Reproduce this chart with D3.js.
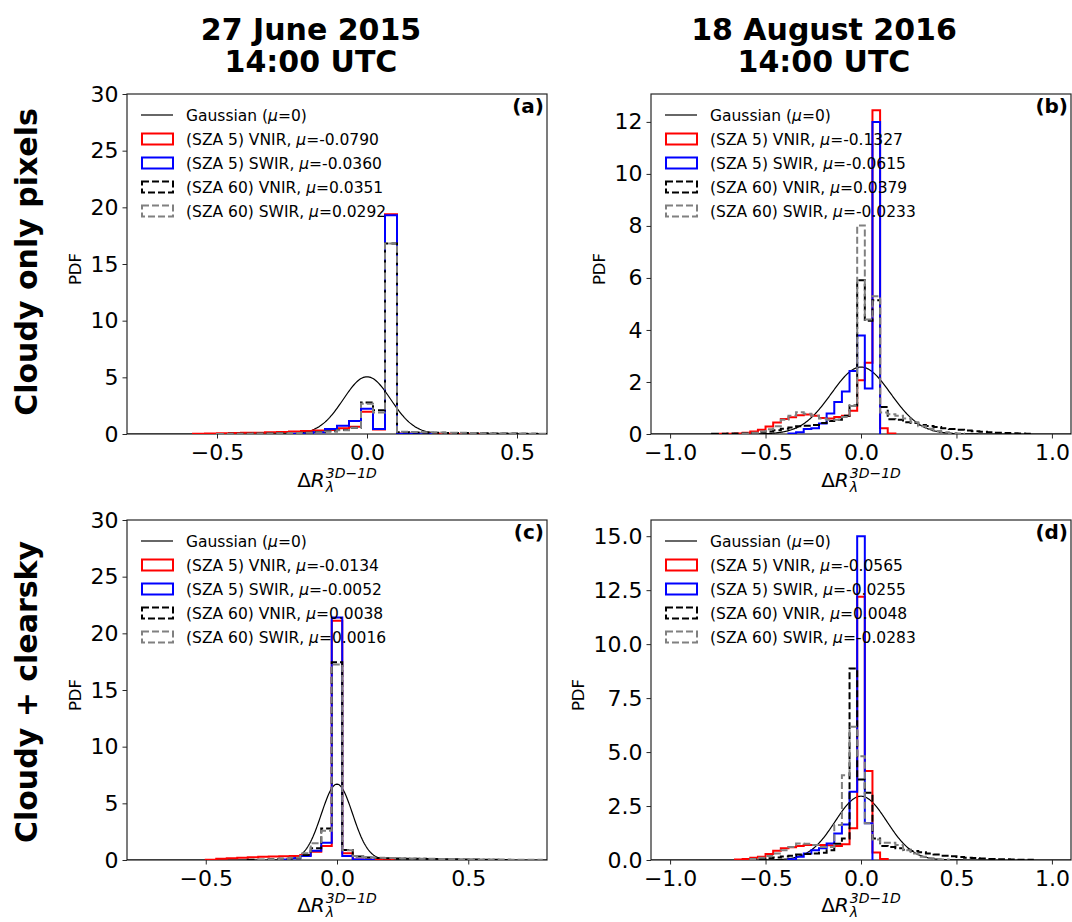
<!DOCTYPE html>
<html>
<head>
<meta charset="utf-8">
<script src="https://cdn.jsdelivr.net/npm/d3@7"></script>
<style>
  body { margin: 0; background: #fff; }
  svg { display: block; font-family: "DejaVu Sans", sans-serif; }
</style>
</head>
<body>
<div id="chart"></div>
<script>
// ---- data ----
// histogram bins are 0.04 wide, first bin left edge at -0.78 (centres -0.76, -0.72, ...)
const BIN_START = -0.78;
const BIN_WIDTH = 0.04;

const columnTitles = [["27 June 2015", "14:00 UTC"], ["18 August 2016", "14:00 UTC"]];
const rowTitles = ["Cloudy only pixels", "Cloudy + clearsky"];
const panelLetters = ["(a)", "(b)", "(c)", "(d)"];
const seriesNames = ["(SZA 5) VNIR", "(SZA 5) SWIR", "(SZA 60) VNIR", "(SZA 60) SWIR"];
const seriesMeans = [
    ["-0.0790", "-0.0360", "0.0351", "0.0292"],
    ["-0.1327", "-0.0615", "0.0379", "-0.0233"],
    ["-0.0134", "-0.0052", "0.0038", "0.0016"],
    ["-0.0565", "-0.0255", "0.0048", "-0.0283"]
];

// sigma of the Gaussian (mu=0) reference curve in each panel
const gaussSigma = [0.079, 0.155, 0.0596, 0.135];

const xLimits = [[-0.8, 0.6], [-1.1, 1.1], [-0.8, 0.8], [-1.1, 1.1]];
const yLimits = [[0, 30], null, [0, 30], null]; // null = autoscale like matplotlib
const xTickValues = [
    [-0.5, 0, 0.5], [-1, -0.5, 0, 0.5, 1], [-0.5, 0, 0.5], [-1, -0.5, 0, 0.5, 1]
];
const yTickValues = [
    [0, 5, 10, 15, 20, 25, 30], [0, 2, 4, 6, 8, 10, 12],
    [0, 5, 10, 15, 20, 25, 30], [0, 2.5, 5, 7.5, 10, 12.5, 15]
];

// (a) cloudy only, 27 June 2015
const pdfA_vnir5 = [0,0,0,0,0, 0.02,0.04,0.06,0.08,0.1, 0.12,0.15,0.18,0.22,0.26, 0.3,0.35,0.5,0.65,1.97, 0.4,19.4,0.05,0.04,0.03, 0.02,0.02,0.01,0.01];
const pdfA_swir5 = [0,0,0,0,0, 0,0,0,0,0, 0,0,0,0.02,0.05, 0.15,0.44,0.73,1.15,2.23, 0.44,19.3,0.03,0.02,0.01];
const pdfA_vnir60 = [0,0,0,0,0, 0,0,0.01,0.02,0.03, 0.04,0.05,0.06,0.08,0.12, 0.18,0.25,0.35,0.55,2.77, 2.1,16.8,0.15,0.14,0.12, 0.1,0.09,0.08,0.07,0.06, 0.05,0.04,0.03,0.02,0.01];
const pdfA_swir60 = [0,0,0,0,0, 0,0,0.01,0.02,0.03, 0.04,0.05,0.06,0.08,0.1, 0.15,0.22,0.33,0.55,2.67, 1.9,16.8,0.2,0.18,0.16, 0.14,0.12,0.1,0.08,0.07, 0.06,0.05,0.04,0.03,0.02];

// (b) cloudy only, 18 August 2016
const pdfB_vnir5 = [0,0.01,0.01,0.02,0.05, 0.1,0.16,0.29,0.44,0.58, 0.64,0.72,0.75,0.7,0.62, 0.6,0.65,0.7,0.89,2.07, 2.74,12.45,0.22,0.02];
const pdfB_swir5 = [0,0,0,0,0, 0,0,0,0,0, 0.02,0.07,0.19,0.22,0.4, 0.79,1.23,1.63,2.42,3.79, 1.75,12.0];
const pdfB_vnir60 = [0.01,0.01,0.02,0.02,0.03, 0.04,0.06,0.1,0.14,0.2, 0.25,0.3,0.32,0.35,0.42, 0.5,0.55,0.7,1.1,5.91, 4.35,5.14,1.04,0.57,0.55, 0.45,0.42,0.35,0.31,0.27, 0.22,0.19,0.16,0.13,0.11, 0.09,0.07,0.05,0.04,0.03, 0.02,0.01];
const pdfB_swir60 = [0,0,0,0,0.02, 0.05,0.1,0.18,0.3,0.55, 0.7,0.84,0.78,0.7,0.6, 0.55,0.55,0.65,1.08,8.02, 4.4,5.3,0.83,0.76,0.7, 0.6,0.45,0.3,0.2,0.12, 0.07,0.04,0.02];

// (c) cloudy + clearsky, 27 June 2015
const pdfC_vnir5 = [0,0,0,0,0, 0,0,0.02,0.1,0.15, 0.2,0.24,0.28,0.3,0.32, 0.35,0.44,0.73,1.23,21.1, 0.59,0.05,0.03,0.02,0.01];
const pdfC_swir5 = [0,0,0,0,0, 0,0,0,0,0, 0,0,0,0,0.05, 0.15,0.35,0.82,1.53,21.4, 0.35,0.05,0.02];
const pdfC_vnir60 = [0,0,0,0,0, 0,0,0,0,0, 0,0.02,0.03,0.06,0.1, 0.15,0.45,1.03,2.79,17.45, 0.88,0.3,0.22,0.18,0.15, 0.13,0.11,0.1,0.08,0.07, 0.06,0.05,0.04,0.03,0.02, 0.01];
const pdfC_swir60 = [0,0,0,0,0, 0,0,0,0,0, 0,0,0.03,0.06,0.12, 0.2,0.6,1.47,2.58,17.25, 0.85,0.35,0.25,0.2,0.18, 0.16,0.14,0.12,0.1,0.09, 0.08,0.07,0.06,0.05,0.04, 0.04,0.03,0.03,0.02];

// (d) cloudy + clearsky, 18 August 2016
const pdfD_vnir5 = [0,0,0,0.02,0.05, 0.1,0.15,0.28,0.43,0.54, 0.59,0.65,0.69,0.7,0.7, 0.68,0.65,0.73,1.47,12.2, 4.12,0.35,0.05];
const pdfD_swir5 = [0,0,0,0,0, 0,0,0,0,0, 0.03,0.15,0.3,0.45,0.54, 0.77,1.23,1.65,3.16,15.0, 1.7];
const pdfD_vnir60 = [0,0,0,0,0, 0.03,0.05,0.08,0.12,0.16, 0.2,0.25,0.28,0.3,0.34, 0.45,0.75,1.0,8.87,3.73, 3.11,1.0,0.65,0.6,0.55, 0.48,0.42,0.36,0.3,0.25, 0.2,0.17,0.14,0.11,0.09, 0.07,0.05,0.04,0.03,0.02, 0.01,0.01];
const pdfD_swir60 = [0,0,0,0,0, 0.05,0.1,0.18,0.3,0.45, 0.6,0.77,0.75,0.7,0.6, 0.6,1.62,3.93,6.17,4.81, 1.7,0.95,0.8,0.8,0.7, 0.45,0.3,0.15,0.08,0.04, 0.02];

const panelSeries = [
    [pdfA_vnir5, pdfA_swir5, pdfA_vnir60, pdfA_swir60],
    [pdfB_vnir5, pdfB_swir5, pdfB_vnir60, pdfB_swir60],
    [pdfC_vnir5, pdfC_swir5, pdfC_vnir60, pdfC_swir60],
    [pdfD_vnir5, pdfD_swir5, pdfD_vnir60, pdfD_swir60]
];

// ---- styles / layout ----
const seriesColors = ["#ff0000", "#0000ff", "#000000", "#808080"];
const seriesDash = [null, null, "7,3", "7,3"];
const PANEL_W = 420;
const PANEL_H = 340;
const panelBoxes = [
    { left: 127, top: 94 }, { left: 651, top: 94 },
    { left: 127, top: 520 }, { left: 651, top: 520 }
];
const xLabelOffset = [53, 53, 52, 52];
const AXIS_COLOR = "#262626";

const svg = d3.select("#chart").append("svg")
    .attr("width", 1072)
    .attr("height", 922);

const tickFmt = (fmt) => (d) => fmt(d).replace("-", "\u2212");

class HistPanel {
    constructor(i) {
        this.i = i;
        this.box = panelBoxes[i];
        this.series = panelSeries[i];
        this.g = svg.append("g")
            .attr("transform", `translate(${this.box.left},${this.box.top})`);

        const yMax = yLimits[i] ? yLimits[i][1] : d3.max(this.series.flat()) * 1.05;
        this.x = d3.scaleLinear().domain(xLimits[i]).range([0, PANEL_W]);
        this.y = d3.scaleLinear().domain([0, yMax]).range([PANEL_H, 0]);

        this.drawAxes();
        this.drawCurves();
        this.drawLegend();
        this.drawLabels();
    }

    // 軸と枠
    drawAxes() {
        const yFmt = this.i === 3 ? d3.format(".1f") : d3.format("d");
        const xAxis = d3.axisBottom(this.x)
            .tickValues(xTickValues[this.i])
            .tickFormat(tickFmt(d3.format(".1f")))
            .tickSize(4.5).tickPadding(4);
        const yAxis = d3.axisLeft(this.y)
            .tickValues(yTickValues[this.i])
            .tickFormat(tickFmt(yFmt))
            .tickSize(4.5).tickPadding(4);

        const gx = this.g.append("g")
            .attr("transform", `translate(0,${PANEL_H})`)
            .call(xAxis);
        this.gy = this.g.append("g").call(yAxis);

        [gx, this.gy].forEach(a => {
            a.select(".domain").remove();
            a.selectAll("line").attr("stroke", AXIS_COLOR).attr("stroke-width", 1);
            a.selectAll("text")
                .attr("fill", "#000")
                .style("font-size", "22px")
                .style("font-family", "DejaVu Sans");
        });
        gx.selectAll("text").attr("dy", "0.78em");

        this.g.append("rect")
            .attr("width", PANEL_W)
            .attr("height", PANEL_H)
            .attr("fill", "none")
            .attr("stroke", AXIS_COLOR)
            .attr("stroke-width", 1.2);
    }

    // ガウス曲線とヒストグラム
    drawCurves() {
        const clipId = `clip-${this.i}`;
        this.g.append("clipPath").attr("id", clipId)
            .append("rect").attr("width", PANEL_W).attr("height", PANEL_H);
        const plot = this.g.append("g").attr("clip-path", `url(#${clipId})`);

        const line = d3.line().x(d => this.x(d[0])).y(d => this.y(d[1]));

        // Gaussian (mu = 0)
        const sigma = gaussSigma[this.i];
        const xs = d3.range(xLimits[this.i][0], xLimits[this.i][1] + 1e-9, 0.004);
        const gauss = xs.map(v => [v, Math.exp(-v * v / (2 * sigma * sigma)) / (sigma * Math.sqrt(2 * Math.PI))]);
        plot.append("path")
            .attr("d", line(gauss))
            .attr("fill", "none")
            .attr("stroke", "#000")
            .attr("stroke-width", 1.2);

        // step histograms
        this.series.forEach((vals, s) => {
            const first = vals.findIndex(v => v > 0);
            let last = vals.length - 1;
            while (last > 0 && !(vals[last] > 0)) last--;
            const edge = k => BIN_START + k * BIN_WIDTH;
            const pts = [[edge(first), 0]];
            for (let k = first; k <= last; k++) {
                pts.push([edge(k), vals[k]]);
                pts.push([edge(k + 1), vals[k]]);
            }
            pts.push([edge(last + 1), 0]);

            plot.append("path")
                .attr("d", line(pts))
                .attr("fill", "none")
                .attr("stroke", seriesColors[s])
                .attr("stroke-width", 2)
                .attr("stroke-dasharray", seriesDash[s]);
        });
    }

    // 凡例
    drawLegend() {
        const lg = this.g.append("g").attr("transform", "translate(14,21)");
        const rowH = 24;

        const g0 = lg.append("g");
        g0.append("line")
            .attr("x1", 0).attr("x2", 32)
            .attr("stroke", "#000").attr("stroke-width", 1.2);
        const t0 = g0.append("text").attr("x", 45).attr("dy", "0.36em")
            .style("font-size", "15.5px");
        t0.append("tspan").text("Gaussian (");
        t0.append("tspan").style("font-style", "italic").text("\u03bc");
        t0.append("tspan").text("=0)");

        seriesNames.forEach((name, s) => {
            const row = lg.append("g").attr("transform", `translate(0,${rowH * (s + 1)})`);
            row.append("rect")
                .attr("x", 1).attr("y", -5.5)
                .attr("width", 31).attr("height", 11)
                .attr("fill", "none")
                .attr("stroke", seriesColors[s])
                .attr("stroke-width", 2)
                .attr("stroke-dasharray", seriesDash[s]);
            const t = row.append("text").attr("x", 45).attr("dy", "0.36em")
                .style("font-size", "15.5px");
            t.append("tspan").text(`${name}, `);
            t.append("tspan").style("font-style", "italic").text("\u03bc");
            t.append("tspan").text(`=${seriesMeans[this.i][s]}`);
        });

        // panel letter
        this.g.append("text")
            .attr("x", PANEL_W - 3).attr("y", 19)
            .attr("text-anchor", "end")
            .style("font-size", "20px")
            .style("font-weight", "bold")
            .text(panelLetters[this.i]);
    }

    // 軸ラベル
    drawLabels() {
        const yb = this.gy.node().getBBox();
        this.g.append("text")
            .attr("transform", `translate(${yb.x - 9.5},${PANEL_H / 2 + 5}) rotate(-90)`)
            .attr("text-anchor", "middle")
            .style("font-size", "16.5px")
            .text("PDF");

        // Delta R_lambda^{3D-1D}, one text element with sub/superscript tspans
        const xl = this.g.append("text")
            .attr("x", 0).attr("y", 0)
            .style("font-size", "20px");
        xl.append("tspan").text("\u0394");
        xl.append("tspan").style("font-style", "italic").text("R");
        const w = xl.node().getComputedTextLength();
        const sup = xl.append("tspan")
            .attr("x", w + 1).attr("y", -9)
            .style("font-size", "14px").style("font-style", "italic")
            .text("3D\u22121D");
        xl.append("tspan")
            .attr("x", w + 1).attr("y", 5)
            .style("font-size", "14px").style("font-style", "italic")
            .text("\u03bb");
        const total = w + 1 + sup.node().getComputedTextLength();
        xl.attr("transform", `translate(${PANEL_W / 2 - total / 2},${PANEL_H + xLabelOffset[this.i]})`);
    }
}

panelSeries.forEach((_, i) => new HistPanel(i));

// column titles
const titleX = [311, 824];
columnTitles.forEach((lines, c) => {
    lines.forEach((txt, k) => {
        svg.append("text")
            .attr("x", titleX[c]).attr("y", 40 + k * 32)
            .attr("text-anchor", "middle")
            .style("font-size", "30px")
            .style("font-weight", "bold")
            .text(txt);
    });
});

// row titles
const rowY = [262, 692];
rowTitles.forEach((txt, r) => {
    svg.append("text")
        .attr("transform", `translate(37,${rowY[r]}) rotate(-90)`)
        .attr("text-anchor", "middle")
        .style("font-size", "30px")
        .style("font-weight", "bold")
        .text(txt);
});
</script>
</body>
</html>
